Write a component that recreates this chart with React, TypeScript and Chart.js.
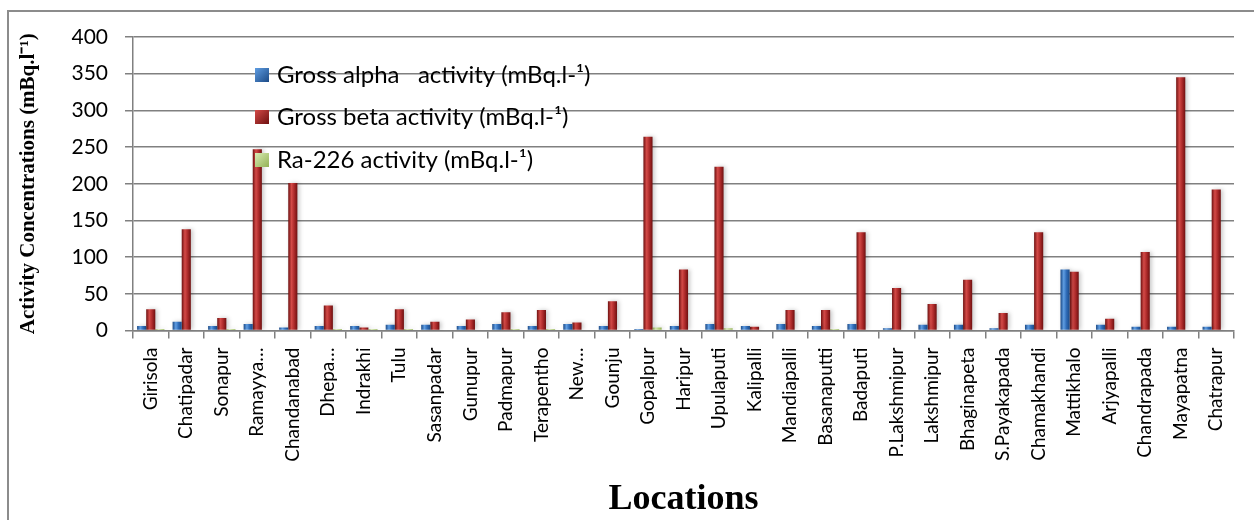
import React, { useEffect, useRef } from "react";
import { Chart, registerables } from "chart.js";

Chart.register(...registerables);

const locations = [
  "Girisola", "Chatipadar", "Sonapur", "Ramayya…", "Chandanabad", "Dhepa…", "Indrakhi", "Tulu",
  "Sasanpadar", "Gunupur", "Padmapur", "Terapentho", "New…", "Gounju", "Gopalpur", "Haripur",
  "Upulaputi", "Kalipalli", "Mandiapalli", "Basanaputti", "Badaputi", "P.Lakshmipur", "Lakshmipur",
  "Bhaginapeta", "S.Payakapada", "Chamakhandi", "Mattikhalo", "Arjyapalli", "Chandrapada", "Mayapatna", "Chatrapur",
];

const grossAlpha = [6, 12, 6, 9, 4, 6, 6, 8, 8, 6, 9, 6, 9, 6, 2, 6, 9, 6, 9, 6, 9, 3, 8, 8, 3, 8, 83, 8, 5, 5, 5];
const grossBeta = [29, 138, 17, 247, 201, 34, 4, 29, 12, 15, 25, 28, 11, 40, 264, 83, 223, 5, 28, 28, 134, 58, 36, 69, 24, 134, 80, 16, 107, 345, 192];
const ra226 = [2, 1, 2, 1, 1, 2, 2, 2, 1, 1, 2, 2, 1, 1, 4, 1, 3, 1, 1, 2, 1, 1, 1, 1, 1, 1, 1, 1, 1, 1, 1];

const yTickValues = [0, 50, 100, 150, 200, 250, 300, 350, 400];

const seriesNames = [
  "Gross alpha   activity (mBq.l-¹)",
  "Gross beta activity (mBq.l-¹)",
  "Ra-226 activity (mBq.l-¹)",
];

const CAT_PCT = 0.77;

const palettes = [
  { edge: "#1c4a86", mid: "#5f9de2", base: "#2f6cb8" },
  { edge: "#6e1010", mid: "#d34a47", base: "#ad2a2a" },
  { edge: "#93b255", mid: "#d8ebb4", base: "#b4d07c" },
];

function barFill(ctx: any, ds: number) {
  const p = palettes[ds];
  const chart = ctx.chart;
  const xs = chart.scales && chart.scales.x;
  if (ctx.type !== "data" || !xs || !chart.chartArea || xs.width == null) return p.base;
  const cw = xs.width / locations.length;
  const bw = (cw * CAT_PCT) / 3;
  const cx = xs.getPixelForValue(ctx.dataIndex) + (ds - 1) * bw;
  if (!isFinite(cx)) return p.base;
  const g = chart.ctx.createLinearGradient(cx - bw / 2, 0, cx + bw / 2, 0);
  g.addColorStop(0, p.edge);
  g.addColorStop(0.35, p.mid);
  g.addColorStop(0.65, p.base);
  g.addColorStop(1, p.edge);
  return g;
}

const shadowPlugin = {
  id: "barShadow",
  beforeDatasetDraw(chart: any) {
    const c = chart.ctx;
    c.save();
    c.shadowColor = "rgba(0,0,0,0.22)";
    c.shadowBlur = 4;
    c.shadowOffsetX = 2;
    c.shadowOffsetY = 0;
  },
  afterDatasetDraw(chart: any) {
    chart.ctx.restore();
  },
};

const legendPlugin = {
  id: "insideLegend",
  afterDatasetsDraw(chart: any) {
    const { ctx, chartArea } = chart;
    ctx.save();
    const bx = chartArea.left + 122;
    const rows = [38, 80, 123];
    seriesNames.forEach((name, i) => {
      const y = chartArea.top + rows[i];
      const p = palettes[i];
      const g = ctx.createLinearGradient(bx, y - 7, bx + 14, y + 7);
      g.addColorStop(0, p.mid);
      g.addColorStop(1, p.edge);
      ctx.fillStyle = g;
      ctx.fillRect(bx, y - 7, 14, 14);
      ctx.fillStyle = "#000";
      ctx.font = "24px Lato";
      ctx.textBaseline = "middle";
      ctx.textAlign = "left";
      ctx.fillText(name, bx + 22, y);
    });
    ctx.restore();
  },
};

export default function App() {
  const ref = useRef<HTMLCanvasElement | null>(null);

  useEffect(() => {
    if (!ref.current) return;
    const gridColor = "#808080";
    const chart = new Chart(ref.current, {
      type: "bar",
      data: {
        labels: locations,
        datasets: [
          { label: seriesNames[0], data: grossAlpha, backgroundColor: (c: any) => barFill(c, 0) },
          { label: seriesNames[1], data: grossBeta, backgroundColor: (c: any) => barFill(c, 1) },
          { label: seriesNames[2], data: ra226, backgroundColor: (c: any) => barFill(c, 2) },
        ],
      },
      options: {
        animation: false,
        responsive: false,
        maintainAspectRatio: false,
        datasets: { bar: { barPercentage: 1, categoryPercentage: CAT_PCT } },
        layout: { padding: { left: 0, right: 20, top: 37, bottom: 0 } },
        plugins: { legend: { display: false }, tooltip: { enabled: false } },
        scales: {
          x: {
            grid: { display: true, drawOnChartArea: false, drawTicks: true, tickLength: 8, color: gridColor, lineWidth: 1.5 },
            border: { display: true, color: gridColor, width: 1.5 },
            ticks: {
              autoSkip: false,
              minRotation: 90,
              maxRotation: 90,
              padding: 9,
              color: "#000",
              font: { family: "Lato", size: 19 },
            },
            title: {
              display: true,
              text: "Locations",
              color: "#000",
              font: { family: "Liberation Serif", size: 36, weight: "bold", lineHeight: 1 },
              padding: { top: 0, bottom: 2 },
            },
            afterFit: (s: any) => {
              s.height = 520 - 330.5;
            },
          },
          y: {
            min: 0,
            max: 400,
            afterBuildTicks: (s: any) => {
              s.ticks = yTickValues.map((v) => ({ value: v }));
            },
            grid: { color: gridColor, lineWidth: 1.5, tickLength: 8, drawTicks: true },
            border: { display: true, color: gridColor, width: 1.5 },
            ticks: {
              padding: 17,
              color: "#000",
              font: { family: "Lato", size: 21 },
            },
            title: {
              display: true,
              text: "Activity Concentrations (mBq.l⁻¹)",
              color: "#000",
              font: { family: "Liberation Serif", size: 21, weight: "bold", lineHeight: 1.2 },
              padding: { top: 16, bottom: 0 },
            },
            afterFit: (s: any) => {
              s.width = 133;
            },
          },
        },
      },
      plugins: [shadowPlugin, legendPlugin],
    } as any);
    return () => chart.destroy();
  }, []);

  return (
    <div style={{ position: "absolute", left: 0, top: 0, width: 1254, height: 520, overflow: "hidden", background: "#fff" }}>
      <div
        style={{
          position: "absolute",
          left: 7,
          top: 10,
          width: 1300,
          height: 600,
          border: "2px solid #8c8c8c",
          boxSizing: "border-box",
        }}
      />
      <canvas ref={ref} width={1254} height={520} style={{ position: "absolute", left: 0, top: 0, width: 1254, height: 520 }} />
    </div>
  );
}
